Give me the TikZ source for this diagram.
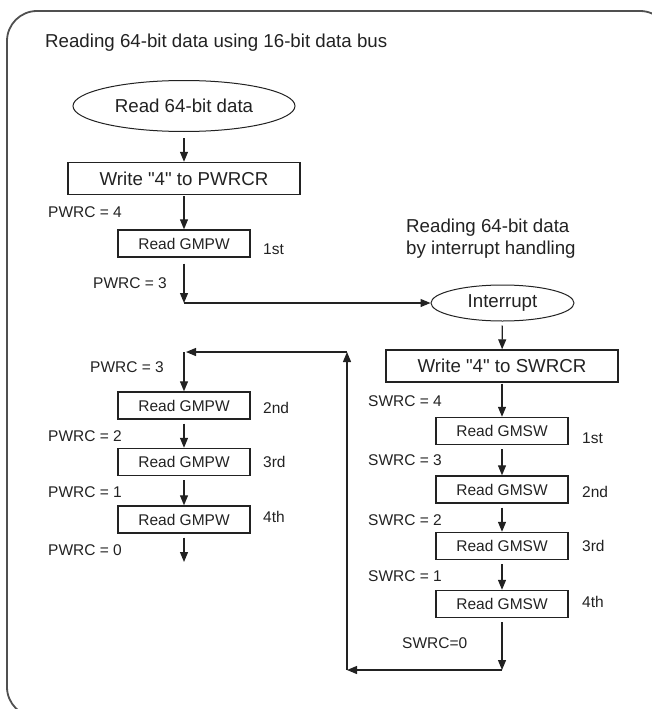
\documentclass[tikz,border=0pt]{standalone}
\usepackage{fontspec}
\setmainfont{Liberation Sans}
\usepackage{xcolor}
\usetikzlibrary{arrows.meta,positioning,shapes.geometric}
\definecolor{ink}{HTML}{222222}
\definecolor{rim}{HTML}{505050}

\begin{document}
\begin{tikzpicture}[
  x=1pt, y=-1pt,
  font=\fontsize{15.5}{18.6}\selectfont, text=ink,
  bigtxt/.style={font=\fontsize{18.7}{22}\selectfont},
  term/.style={draw=ink, ellipse, inner sep=0pt, line width=1pt, bigtxt},
  wbox/.style={draw=ink, line width=1.4pt, inner sep=0pt, minimum width=232pt, minimum height=32pt, bigtxt},
  rbox/.style={draw=ink, line width=1.4pt, inner sep=0pt, minimum width=132pt, minimum height=27pt},
  ar/.style={draw=ink, line width=1.2pt, -{Triangle[length=10pt,width=8pt]}},
  lab/.style={anchor=west, inner sep=0pt},
]
\useasboundingbox (0,0) rectangle (652,709);
\clip (0,0) rectangle (652,709);
% outer frame (runs off the right and bottom edge)
\draw[rim, line width=1.8pt, rounded corners=30pt] (7,11) rectangle (670,717);
\node[bigtxt, lab] (title) at (45,43) {Reading 64-bit data using 16-bit data bus};
% main flow, 16-bit bus
\node[term, minimum width=222pt, minimum height=51pt] (rd) at (184,106) {Read 64-bit data};
\node[wbox] (wp) at (184,178.5) {Write \textquotedbl4\textquotedbl{} to PWRCR};
\node[rbox] (p1) at (184,243.5) {Read GMPW};
\coordinate (pj) at (184,303);
\coordinate (pt) at (184,352);
\node[rbox] (p2) at (184,405.5) {Read GMPW};
\node[rbox] (p3) at (184,462) {Read GMPW};
\node[rbox] (p4) at (184,519.5) {Read GMPW};
\coordinate (pe) at (184,562);
\draw[ar, shorten <=6pt] (rd) -- (wp);
\draw[ar, shorten <=1pt] (wp) -- (p1);
\draw[ar, shorten <=6pt] (p1) -- (pj);
\draw[ar] (pt) -- (p2);
\draw[ar, shorten <=4pt] (p2) -- (p3);
\draw[ar, shorten <=4pt] (p3) -- (p4);
\draw[ar, shorten <=4pt] (p4) -- (pe);
\node[lab] (lp4) at (48,212) {PWRC = 4};
\node[lab] (lp3) at (93,283) {PWRC = 3};
\node[lab] (lq3) at (90,367) {PWRC = 3};
\node[lab] (lp2) at (48,436) {PWRC = 2};
\node[lab] (lp1) at (48,492) {PWRC = 1};
\node[lab] (lp0) at (48,550) {PWRC = 0};
\node[lab] (op1) at (263,249) {1st};
\node[lab] (op2) at (263,408) {2nd};
\node[lab] (op3) at (263,462) {3rd};
\node[lab] (op4) at (263,517) {4th};
% interrupt handler
\node[bigtxt, lab, align=left] (sub) at (406,239) {Reading 64-bit data\\by interrupt handling};
\node[term, minimum width=143pt, minimum height=36pt] (irq) at (502.5,303) {Interrupt};
\node[wbox] (ws) at (502,366) {Write \textquotedbl4\textquotedbl{} to SWRCR};
\node[rbox] (s1) at (502,431) {Read GMSW};
\node[rbox] (s2) at (502,489.5) {Read GMSW};
\node[rbox] (s3) at (502,546) {Read GMSW};
\node[rbox] (s4) at (502,604) {Read GMSW};
\coordinate (sj) at (502,670);
\coordinate (sc) at (347,670);
\coordinate (st) at (347,352);
\draw[ar] (pj) -- (irq);
\draw[ar, shorten <=4pt] (irq) -- (ws);
\draw[ar, shorten <=1pt] (ws) -- (s1);
\draw[ar, shorten <=4pt] (s1) -- (s2);
\draw[ar, shorten <=4pt] (s2) -- (s3);
\draw[ar, shorten <=4pt] (s3) -- (s4);
\draw[ar, shorten <=4pt] (s4) -- (sj);
\draw[ar] (sj) -- (sc);
\draw[ar] (sc) -- (st);
\draw[ar, shorten >=2pt] (st) -- (pt);
\node[lab] (ls4) at (368,401) {SWRC = 4};
\node[lab] (ls3) at (368,460) {SWRC = 3};
\node[lab] (ls2) at (368,520) {SWRC = 2};
\node[lab] (ls1) at (368,576) {SWRC = 1};
\node[lab] (ls0) at (402,643) {SWRC=0};
\node[lab] (os1) at (582,438) {1st};
\node[lab] (os2) at (582,492) {2nd};
\node[lab] (os3) at (582,546) {3rd};
\node[lab] (os4) at (582,602) {4th};
\end{tikzpicture}
\end{document}
